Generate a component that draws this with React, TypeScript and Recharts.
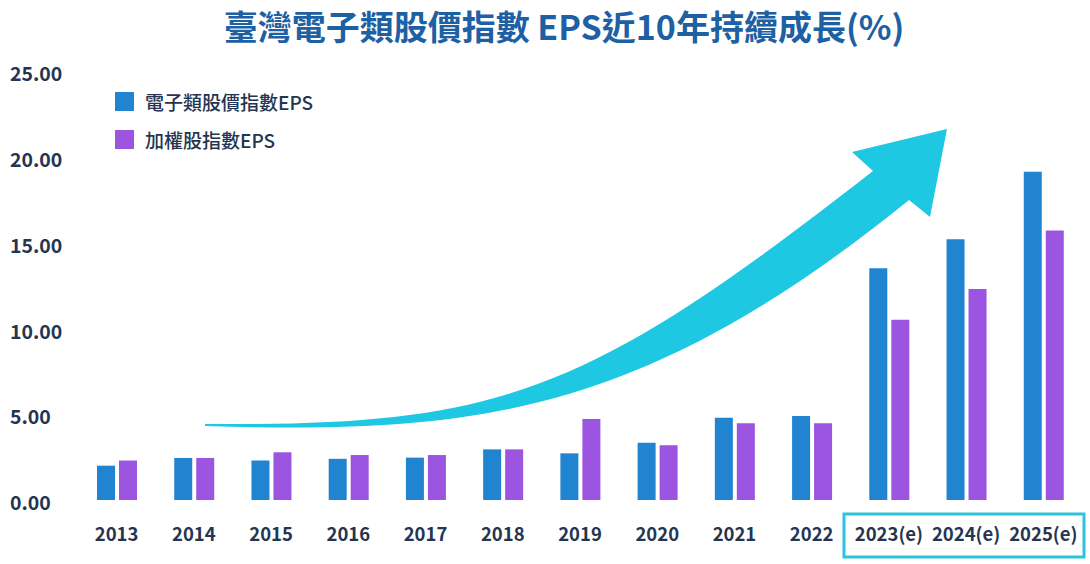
import { Bar, BarChart, Customized, Legend, XAxis, YAxis } from "recharts";

const years = [
	"2013",
	"2014",
	"2015",
	"2016",
	"2017",
	"2018",
	"2019",
	"2020",
	"2021",
	"2022",
	"2023(e)",
	"2024(e)",
	"2025(e)",
];
const electronicsEps = [
	2.0, 2.45, 2.3, 2.4, 2.47, 2.95, 2.72, 3.34, 4.8, 4.9, 13.5, 15.2, 19.13,
];
const taiexEps = [
	2.3, 2.45, 2.78, 2.62, 2.62, 2.95, 4.72, 3.19, 4.47, 4.47, 10.5, 12.3, 15.7,
];
const yTicks = [0, 5, 10, 15, 20, 25];

const seriesNames = ["電子類股價指數EPS", "加權股指數EPS"];
const colors = ["#2184D1", "#9B55E0"];
const FONT = '"Noto Sans CJK TC", "Noto Sans", sans-serif';
const TEXT = "#253551";

const data = years.map((year, i) => ({
	year,
	electronics: electronicsEps[i],
	taiex: taiexEps[i],
}));

function YTick({ y, payload }: any) {
	return (
		<text
			x={10}
			y={y + 5}
			textAnchor="start"
			dominantBaseline="middle"
			fontFamily={FONT}
			fontWeight={700}
			fontSize={19.5}
			fill={TEXT}
		>
			{Number(payload.value).toFixed(2)}
		</text>
	);
}

function XTick({ x, y, payload }: any) {
	return (
		<text
			x={x}
			y={y}
			dy={33}
			textAnchor="middle"
			fontFamily={FONT}
			fontWeight={700}
			fontSize={18.5}
			fill={TEXT}
		>
			{payload.value}
		</text>
	);
}

function LegendBox() {
	return (
		<div style={{ fontFamily: FONT }}>
			{seriesNames.map((name, i) => (
				<div
					key={name}
					style={{
						display: "flex",
						alignItems: "center",
						height: 19,
						marginBottom: 19,
					}}
				>
					<span
						style={{
							width: 19,
							height: 19,
							background: colors[i],
							display: "inline-block",
						}}
					/>
					<span
						style={{
							marginLeft: 11,
							fontSize: 19,
							fontWeight: 500,
							color: TEXT,
							lineHeight: "19px",
						}}
					>
						{name}
					</span>
				</div>
			))}
		</div>
	);
}

// decoration: title, growth arrow, box round the estimate years
function Decor() {
	return (
		<g>
			<text
				x={564}
				y={31}
				textAnchor="middle"
				dominantBaseline="middle"
				fontFamily={FONT}
				fontWeight={700}
				fontSize={34}
				fill="#1E60A4"
			>
				臺灣電子類股價指數 EPS近10年持續成長(%)
			</text>
			<path
				d="M205,424 C500,426 585,396 873,171 L852,152 L947,129 L930,217 L909,200 C640,418 470,434 205,426 Z"
				fill="#1FC8E2"
			/>
			<rect
				x={844}
				y={514}
				width={240}
				height={43}
				fill="none"
				stroke="#2BC4DA"
				strokeWidth={3}
			/>
		</g>
	);
}

export default function App() {
	return (
		<div style={{ position: "absolute", left: 0, top: 0, background: "#fff" }}>
			<BarChart
				width={1090}
				height={564}
				data={data}
				margin={{ top: 71, right: 8, left: 0, bottom: 24 }}
				barSize={18}
				barGap={4}
			>
				<XAxis
					dataKey="year"
					axisLine={false}
					tickLine={false}
					height={40}
					interval={0}
					tick={<XTick />}
				/>
				<YAxis
					width={78}
					domain={[0, 25]}
					ticks={yTicks}
					axisLine={false}
					tickLine={false}
					tick={<YTick />}
				/>
				<Legend
					layout="vertical"
					align="center"
					verticalAlign="middle"
					wrapperStyle={{ top: 92, left: 115, width: 280 }}
					content={<LegendBox />}
				/>
				<Customized component={<Decor />} />
				<Bar
					dataKey="electronics"
					name={seriesNames[0]}
					fill={colors[0]}
					isAnimationActive={false}
				/>
				<Bar
					dataKey="taiex"
					name={seriesNames[1]}
					fill={colors[1]}
					isAnimationActive={false}
				/>
			</BarChart>
		</div>
	);
}
